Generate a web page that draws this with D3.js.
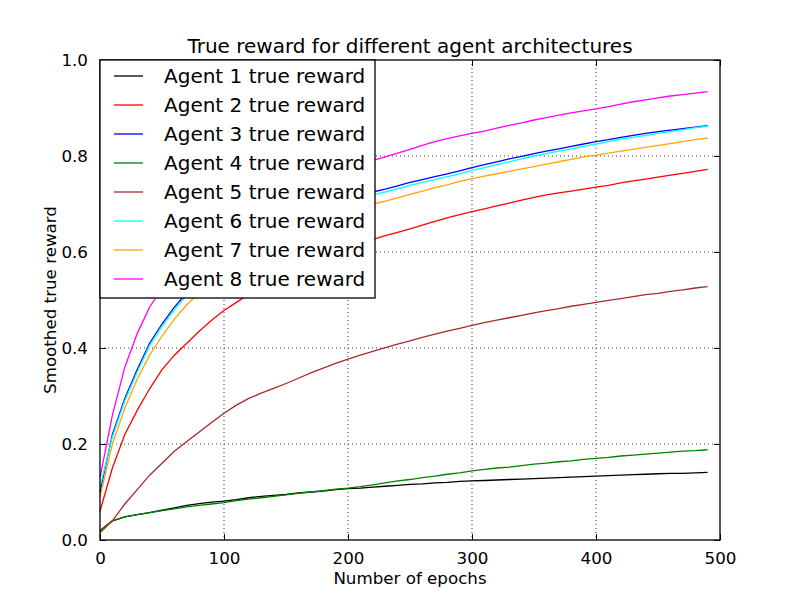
<!DOCTYPE html>
<html><head><meta charset="utf-8">
<script src="https://cdn.jsdelivr.net/npm/d3@7"></script>
<style>body{margin:0;background:#fff}svg text{font-family:"DejaVu Sans",sans-serif}</style>
</head><body><svg id="c" width="800" height="600"></svg>
<script>
const epochs = d3.range(0, 500, 10);
const seriesNames = ["Agent 1 true reward","Agent 2 true reward","Agent 3 true reward","Agent 4 true reward","Agent 5 true reward","Agent 6 true reward","Agent 7 true reward","Agent 8 true reward"];
const seriesColors = ["#000000","#ff0000","#0000ff","#008000","#a52a2a","#00ffff","#ffa500","#ff00ff"];
const xTicks = [0,100,200,300,400,500];
const yTicks = [0,0.2,0.4,0.6,0.8,1.0];

const agent1 = [0.020,0.040,0.048,0.053,0.057,0.062,0.067,0.072,0.076,0.079,0.081,0.084,0.088,0.091,0.093,0.095,0.098,0.100,0.102,0.105,0.107,0.108,0.110,0.112,0.114,0.116,0.117,0.119,0.120,0.122,0.123,0.124,0.125,0.126,0.127,0.128,0.129,0.130,0.131,0.132,0.133,0.134,0.135,0.136,0.137,0.138,0.139,0.139,0.140,0.141];
const agent2 = [0.060,0.150,0.220,0.270,0.315,0.355,0.385,0.410,0.435,0.458,0.478,0.495,0.512,0.527,0.541,0.554,0.566,0.577,0.588,0.598,0.608,0.617,0.626,0.634,0.641,0.648,0.656,0.664,0.671,0.678,0.684,0.690,0.696,0.702,0.708,0.714,0.719,0.723,0.727,0.731,0.735,0.739,0.744,0.748,0.752,0.756,0.760,0.764,0.768,0.772];
const agent3 = [0.100,0.220,0.295,0.355,0.410,0.450,0.485,0.515,0.540,0.565,0.587,0.607,0.625,0.641,0.655,0.668,0.680,0.690,0.700,0.708,0.713,0.719,0.725,0.731,0.738,0.745,0.751,0.757,0.763,0.769,0.776,0.782,0.788,0.794,0.799,0.805,0.810,0.815,0.820,0.825,0.830,0.834,0.839,0.843,0.847,0.851,0.854,0.857,0.860,0.863];
const agent4 = [0.015,0.040,0.048,0.053,0.057,0.061,0.065,0.069,0.072,0.075,0.078,0.082,0.085,0.088,0.091,0.094,0.097,0.100,0.103,0.106,0.108,0.111,0.115,0.119,0.123,0.126,0.130,0.133,0.137,0.140,0.144,0.147,0.150,0.152,0.155,0.158,0.160,0.163,0.165,0.168,0.170,0.172,0.175,0.177,0.179,0.181,0.183,0.185,0.186,0.188];
const agent5 = [0.020,0.040,0.075,0.105,0.135,0.160,0.185,0.205,0.225,0.245,0.264,0.281,0.295,0.306,0.316,0.326,0.337,0.348,0.358,0.368,0.377,0.385,0.393,0.401,0.408,0.415,0.422,0.429,0.435,0.441,0.447,0.453,0.458,0.463,0.468,0.473,0.478,0.482,0.487,0.491,0.495,0.499,0.503,0.507,0.511,0.514,0.518,0.521,0.525,0.528];
const agent6 = [0.110,0.215,0.290,0.350,0.405,0.445,0.480,0.510,0.535,0.560,0.582,0.602,0.620,0.636,0.650,0.663,0.675,0.685,0.695,0.703,0.708,0.714,0.719,0.725,0.732,0.739,0.745,0.751,0.757,0.763,0.770,0.776,0.782,0.788,0.794,0.800,0.805,0.810,0.815,0.820,0.825,0.830,0.835,0.839,0.843,0.847,0.851,0.855,0.859,0.862];
const agent7 = [0.090,0.200,0.275,0.335,0.385,0.425,0.460,0.490,0.515,0.537,0.558,0.577,0.595,0.611,0.625,0.638,0.650,0.660,0.670,0.679,0.687,0.694,0.700,0.706,0.713,0.720,0.727,0.734,0.740,0.747,0.753,0.758,0.763,0.768,0.773,0.778,0.783,0.788,0.793,0.798,0.802,0.806,0.810,0.814,0.818,0.822,0.826,0.830,0.834,0.8375];
const agent8 = [0.130,0.260,0.360,0.430,0.485,0.525,0.560,0.590,0.615,0.635,0.655,0.672,0.688,0.702,0.715,0.727,0.738,0.749,0.759,0.768,0.776,0.784,0.791,0.798,0.806,0.814,0.822,0.830,0.836,0.842,0.847,0.852,0.858,0.864,0.869,0.875,0.880,0.885,0.890,0.894,0.898,0.903,0.908,0.913,0.917,0.921,0.925,0.928,0.931,0.934];
const seriesValues = [agent1,agent2,agent3,agent4,agent5,agent6,agent7,agent8];

const svg = d3.select("#c");
const L=100,R=720,T=60,B=540;
const x = d3.scaleLinear().domain([0,500]).range([L,R]);
const y = d3.scaleLinear().domain([0,1]).range([B,T]);

// grid
const g = svg.append("g");
xTicks.slice(1,-1).forEach(t=>g.append("line").attr("x1",x(t)).attr("x2",x(t)).attr("y1",T).attr("y2",B)
  .attr("stroke","#000").attr("stroke-width",0.8).attr("stroke-dasharray","1,3"));
yTicks.slice(1,-1).forEach(t=>g.append("line").attr("y1",y(t)).attr("y2",y(t)).attr("x1",L).attr("x2",R)
  .attr("stroke","#000").attr("stroke-width",0.8).attr("stroke-dasharray","1,3"));

// lines
const line = d3.line().x((d,i)=>x(epochs[i])).y(d=>y(d));
seriesValues.forEach((vals,k)=>{
  svg.append("path").datum(vals).attr("d",line).attr("fill","none")
    .attr("stroke",seriesColors[k]).attr("stroke-width",1.3);
});

// axes with inward ticks
const fmtY = d3.format(".1f");
const axB = d3.axisBottom(x).tickValues(xTicks).tickSizeInner(-6).tickSizeOuter(0).tickPadding(12);
const axT = d3.axisTop(x).tickValues(xTicks).tickSizeInner(-6).tickSizeOuter(0).tickFormat("");
const axL = d3.axisLeft(y).tickValues(yTicks).tickSizeInner(-6).tickSizeOuter(0).tickPadding(12).tickFormat(fmtY);
const axR = d3.axisRight(y).tickValues(yTicks).tickSizeInner(-6).tickSizeOuter(0).tickFormat("");
[[axB,`translate(0,${B})`],[axT,`translate(0,${T})`],[axL,`translate(${L},0)`],[axR,`translate(${R},0)`]].forEach(([a,tr])=>{
  const gg = svg.append("g").attr("transform",tr).call(a);
  gg.select(".domain").remove();
  gg.selectAll("line").attr("stroke","#000").attr("stroke-width",1);
  gg.selectAll("text").attr("font-size","16.7px").attr("fill","#000").style("font-family","DejaVu Sans");
});
svg.append("rect").attr("x",L).attr("y",T).attr("width",R-L).attr("height",B-T)
  .attr("fill","none").attr("stroke","#000").attr("stroke-width",1.3);

// title and labels
svg.append("text").attr("x",(L+R)/2).attr("y",53).attr("text-anchor","middle").attr("font-size","20px").text("True reward for different agent architectures");
svg.append("text").attr("x",(L+R)/2).attr("y",584).attr("text-anchor","middle").attr("font-size","16.7px").text("Number of epochs");
svg.append("text").attr("transform",`translate(56,${(T+B)/2}) rotate(-90)`).attr("text-anchor","middle").attr("font-size","16.7px").text("Smoothed true reward");

// legend
const lg = svg.append("g");
lg.append("rect").attr("x",L).attr("y",T).attr("width",275).attr("height",238)
  .attr("fill","#fff").attr("stroke","#000").attr("stroke-width",1.3);
seriesNames.forEach((n,k)=>{
  const yy = 76 + k*29;
  lg.append("line").attr("x1",114).attr("x2",143).attr("y1",yy).attr("y2",yy).attr("stroke",seriesColors[k]).attr("stroke-width",1.3);
  lg.append("text").attr("x",164).attr("y",yy+7).attr("font-size","20px").text(n);
});
</script></body></html>
